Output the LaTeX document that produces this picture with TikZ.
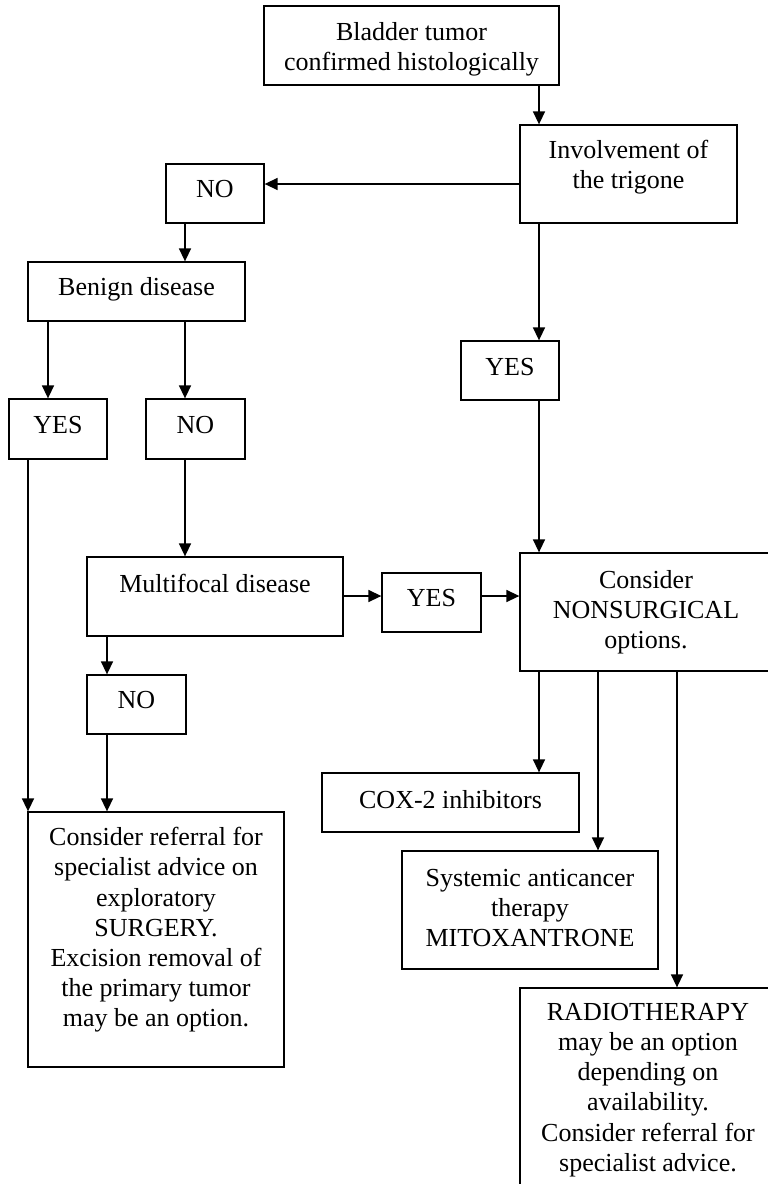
\documentclass[tikz,border=0pt]{standalone}
\usepackage{fontspec}
\setmainfont{Liberation Serif}
\usetikzlibrary{arrows.meta}
\newcommand{\mybox}[8]{%
  \node[boxst, minimum width={#4-#2}, minimum height={#5-#3}] (#1) at ({(#2+#4)/2},{(#3+#5)/2}) {};
  \node[txt] (#1t) at (#6,#7) {#8};}
\begin{document}
\begin{tikzpicture}[x=1pt,y=-1pt,
  boxst/.style={draw, line width=1.3pt, inner sep=0pt, rectangle},
  txt/.style={align=center, inner sep=0pt, font=\fontsize{26}{30.2}\selectfont},
  arr/.style={line width=1.5pt, -{Triangle[length=13pt,width=12pt]}}]
\useasboundingbox (0,0) rectangle (768,1184);
\fill[white] (0,0) rectangle (768,1184);
\clip (0,0) rectangle (768,1184);

\mybox{box1}{264}{6}{559}{85}{411.5}{49}{Bladder tumor\\confirmed histologically}
\mybox{box2}{520}{125}{737}{223}{628.5}{167}{Involvement of\\the trigone}
\mybox{no1}{166}{164}{264}{223}{215}{189}{NO}
\mybox{benign}{28}{262}{245}{321}{136.5}{289}{Benign disease}
\mybox{yesr}{461}{341}{559}{400}{510}{367}{YES}
\mybox{yesl}{9}{399}{107}{459}{58}{425}{YES}
\mybox{no2}{146}{399}{245}{459}{195.5}{425}{NO}
\mybox{multi}{87}{557}{343}{636}{215}{583}{Multifocal disease}
\mybox{yesm}{382}{573}{481}{632}{431.5}{598}{YES}
\mybox{cons}{520}{553}{800}{671}{646}{612}{Consider\\NONSURGICAL\\options.}
\mybox{no3}{87}{675}{186}{734}{136.5}{700}{NO}
\mybox{surg}{28}{812}{284}{1067}{156}{930}{Consider referral for\\specialist advice on\\exploratory\\SURGERY.\\Excision removal of\\the primary tumor\\may be an option.}
\mybox{cox}{322}{773}{579}{832}{450.5}{800}{COX-2 inhibitors}
\mybox{sys}{402}{851}{658}{969}{530}{908}{Systemic anticancer\\therapy\\MITOXANTRONE}
\mybox{radio}{520}{988}{800}{1210}{648}{1090}{RADIOTHERAPY\\may be an option\\depending on\\availability.\\Consider referral for\\specialist advice.}

\coordinate (x28) at (28,0);
\coordinate (x48) at (48,0);
\coordinate (x107) at (107,0);
\coordinate (x185) at (185,0);
\coordinate (x539) at (539,0);
\coordinate (x598) at (598,0);
\coordinate (x677) at (677,0);
\coordinate (y184) at (0,184);
\coordinate (y596) at (0,596);

\draw[arr] (box1.south -| x539) -- (box2.north -| x539);
\draw[arr] (box2.west |- y184) -- (no1.east |- y184);
\draw[arr] (no1.south -| x185) -- (benign.north -| x185);
\draw[arr] (box2.south -| x539) -- (yesr.north -| x539);
\draw[arr] (benign.south -| x48) -- (yesl.north -| x48);
\draw[arr] (benign.south -| x185) -- (no2.north -| x185);
\draw[arr] (no2.south -| x185) -- (multi.north -| x185);
\draw[arr] (multi.east |- y596) -- (yesm.west |- y596);
\draw[arr] (yesm.east |- y596) -- (cons.west |- y596);
\draw[arr] (yesr.south -| x539) -- (cons.north -| x539);
\draw[arr] (multi.south -| x107) -- (no3.north -| x107);
\draw[arr] (no3.south -| x107) -- (surg.north -| x107);
\draw[arr] (yesl.south -| x28) -- (surg.north -| x28);
\draw[arr] (cons.south -| x539) -- (cox.north -| x539);
\draw[arr] (cons.south -| x598) -- (sys.north -| x598);
\draw[arr] (cons.south -| x677) -- (radio.north -| x677);
\end{tikzpicture}
\end{document}
